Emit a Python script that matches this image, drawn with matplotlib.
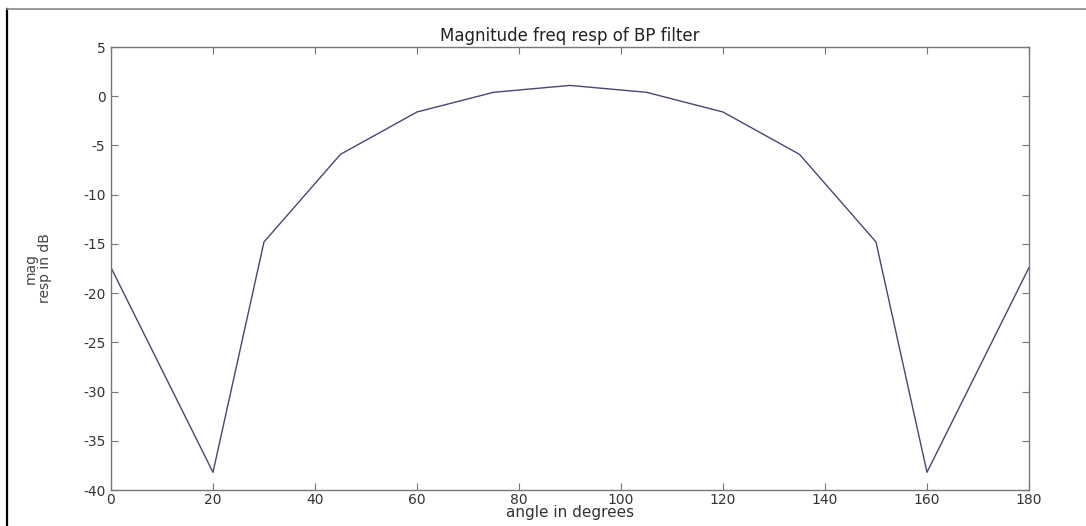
import matplotlib
matplotlib.use("Agg")
import matplotlib.pyplot as plt
from matplotlib.lines import Line2D

# angle (deg) vs magnitude response (dB)
angle_deg = [0, 20, 30, 45, 60, 75, 90, 105, 120, 135, 150, 160, 180]
mag_db = [-17.4, -38.2, -14.8, -5.9, -1.6, 0.4, 1.1, 0.4, -1.6, -5.9, -14.8, -38.2, -17.4]

x_ticks = list(range(0, 181, 20))
y_ticks = list(range(-40, 6, 5))

plt.rcParams['font.family'] = ['DejaVu Sans']
plt.rcParams['axes.unicode_minus'] = False
text_col = '#333333'

fig = plt.figure(figsize=(10.86, 5.26), dpi=100)
ax = fig.add_axes([0.1022, 0.0684, 0.8453, 0.8422])

ax.plot(angle_deg, mag_db, color='#46467a', linewidth=1.0)

ax.set_xlim(0, 180)
ax.set_ylim(-40, 5)
ax.set_xticks(x_ticks)
ax.set_yticks(y_ticks)
ax.tick_params(direction='in', length=5, width=0.8, top=True, right=True,
               labelsize=10, colors='#777777', labelcolor=text_col, pad=2)
ax.tick_params(axis='y', pad=4)
for s in ax.spines.values():
    s.set_color('#777777')
    s.set_linewidth(1.0)

ax.set_title('Magnitude freq resp of BP filter', fontsize=12, color='#222222', pad=4)
ax.set_xlabel('angle in degrees', fontsize=11, color=text_col, labelpad=-1)
ax.set_ylabel('mag\nresp in dB', fontsize=10, color='#444444', labelpad=22,
              linespacing=1.05)

# outer frame lines of the original screenshot
fig.add_artist(Line2D([7 / 1086, 7 / 1086], [0, 1 - 9 / 526], color='black', linewidth=1.6))
fig.add_artist(Line2D([7 / 1086, 1], [1 - 9 / 526, 1 - 9 / 526], color='#888888', linewidth=1.2))

fig.savefig('out.png', dpi=100, facecolor='white')
